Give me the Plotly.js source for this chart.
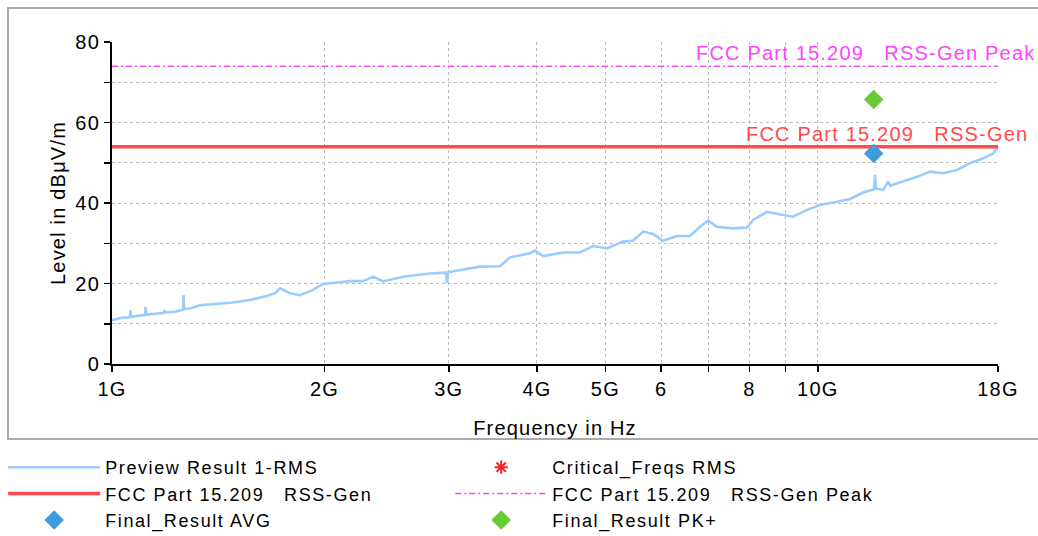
<!DOCTYPE html>
<html>
<head>
<meta charset="utf-8">
<script src="https://cdn.plot.ly/plotly-3.0.1.min.js"></script>
<style>
  html, body { margin: 0; padding: 0; background: #ffffff; }
  #chart { width: 1038px; height: 536px; }
  svg text { letter-spacing: 1.2px; }
  svg text.legendtext { letter-spacing: 1.6px; }
</style>
</head>
<body>
<div id="chart"></div>
<script>
// Preview Result 1-RMS (frequency in GHz, level in dBuV/m)
const previewFreqGHz = [
  1.000, 1.033, 1.060, 1.062, 1.064, 1.096, 1.114, 1.116, 1.118, 1.151,
  1.185, 1.187, 1.189, 1.228, 1.261, 1.263, 1.265, 1.290, 1.332, 1.399,
  1.483, 1.569, 1.658, 1.702, 1.730, 1.787, 1.846, 1.927, 1.991, 2.070,
  2.174, 2.268, 2.343, 2.421, 2.585, 2.822, 2.973, 2.983, 2.992, 3.144,
  3.322, 3.545, 3.664, 3.910, 3.975, 4.080, 4.355, 4.604, 4.803, 5.027,
  5.297, 5.473, 5.655, 5.842, 6.035, 6.317, 6.591, 6.810, 6.990, 7.199,
  7.584, 7.938, 8.095, 8.472, 8.926, 9.223, 9.654, 10.07, 10.65, 11.11,
  11.59, 12.01, 12.05, 12.09, 12.37, 12.58, 12.66, 13.21, 13.82, 14.42,
  15.05, 15.75, 16.43, 17.15, 17.71, 18.00
];
const previewLevel = [
  10.9, 11.5, 11.6, 13.4, 11.7, 12.0, 12.2, 14.2, 12.3, 12.5,
  12.7, 13.4, 12.8, 13.0, 13.5, 17.1, 13.7, 13.8, 14.6, 14.9,
  15.3, 15.9, 16.9, 17.6, 18.8, 17.6, 17.1, 18.4, 19.9, 20.2,
  20.6, 20.6, 21.7, 20.5, 21.7, 22.5, 22.7, 20.1, 22.8, 23.5,
  24.2, 24.3, 26.5, 27.5, 28.2, 26.8, 27.7, 27.7, 29.3, 28.7,
  30.4, 30.6, 32.9, 32.3, 30.6, 31.8, 31.8, 34.1, 35.6, 34.1,
  33.7, 33.9, 35.8, 37.8, 37.0, 36.6, 38.3, 39.5, 40.3, 41.0,
  42.6, 43.4, 47.0, 43.6, 43.2, 45.3, 44.3, 45.3, 46.5, 47.8,
  47.4, 48.2, 49.9, 51.1, 52.3, 53.8
];

// Limit lines
const limitFreqGHz = [1, 18];
const limitAvgLevel = [54, 54];
const limitPeakLevel = [74, 74];

// Final results
const finalFreqGHz = [12.0];
const finalAvgLevel = [52.3];
const finalPkLevel = [65.7];

// Critical frequencies (none found; legend entry only)
const criticalFreqGHz = [null];
const criticalLevel = [null];

// Axis ticks
const xTickGHz = [1, 2, 3, 4, 5, 6, 7, 8, 9, 10, 18];
const xTickText = ['1G', '2G', '3G', '4G', '5G', '6', '', '8', '', '10G', '18G'];
const yTickVals = [0, 10, 20, 30, 40, 50, 60, 70, 80];
const yTickText = ['0', '', '20', '', '40', '', '60', '', '80'];

const toHz = a => a.map(v => (v == null ? null : v * 1e9));
const sp = '\u00a0\u00a0\u00a0';
const FONT = '"Liberation Sans", Arial, sans-serif';
const FS = 20;

const traces = [
  { x: toHz(previewFreqGHz), y: previewLevel, type: 'scatter', mode: 'lines',
    name: 'Preview Result 1-RMS', line: { color: '#99CCFF', width: 2.6 } },
  { x: toHz(criticalFreqGHz), y: criticalLevel, type: 'scatter', mode: 'markers',
    name: 'Critical_Freqs RMS',
    marker: { symbol: 'asterisk-open', size: 11, color: '#FF2222', line: { color: '#FF2222', width: 2 } } },
  { x: toHz(limitFreqGHz), y: limitAvgLevel, type: 'scatter', mode: 'lines',
    name: 'FCC Part 15.209' + sp + 'RSS-Gen', line: { color: '#FF4B4B', width: 3.5 } },
  { x: toHz(limitFreqGHz), y: limitPeakLevel, type: 'scatter', mode: 'lines',
    name: 'FCC Part 15.209' + sp + 'RSS-Gen Peak',
    line: { color: '#FF44FF', width: 1.5, dash: '6px,3px,2px,3px' } },
  { x: toHz(finalFreqGHz), y: finalAvgLevel, type: 'scatter', mode: 'markers',
    name: 'Final_Result AVG', marker: { symbol: 'diamond', size: 15, color: '#3F9BE0' } },
  { x: toHz(finalFreqGHz), y: finalPkLevel, type: 'scatter', mode: 'markers',
    name: 'Final_Result PK+', marker: { symbol: 'diamond', size: 15, color: '#66CC33' } }
];

const xRange = [Math.log10(1e9), Math.log10(18e9)];
const yRange = [0, 80];

const layout = {
  width: 1038, height: 536,
  margin: { l: 112, r: 40, t: 42, b: 172, autoexpand: false },
  paper_bgcolor: '#ffffff', plot_bgcolor: '#ffffff',
  font: { family: FONT, size: FS, color: '#000000' },
  showlegend: true,
  xaxis: {
    type: 'log', range: xRange,
    tickvals: toHz(xTickGHz), ticktext: xTickText,
    showline: true, linecolor: '#000000', linewidth: 2,
    ticks: 'outside', ticklen: 6, tickwidth: 1.5, tickcolor: '#000000',
    showgrid: true, gridcolor: '#BBBBBB', gridwidth: 1, griddash: 'dot',
    zeroline: false, tickfont: { size: FS },
    title: { text: 'Frequency in Hz', font: { size: FS }, standoff: 22 }
  },
  yaxis: {
    range: yRange, tickvals: yTickVals, ticktext: yTickText,
    showline: true, linecolor: '#000000', linewidth: 2,
    ticks: 'outside', ticklen: 6, tickwidth: 1.5, tickcolor: '#000000',
    showgrid: true, gridcolor: '#BBBBBB', gridwidth: 1, griddash: 'dot',
    zeroline: false, tickfont: { size: FS },
    title: { text: 'Level in dBμV/m', font: { size: FS }, standoff: 4 }
  },
  xaxis2: {
    type: 'log', range: xRange, overlaying: 'x', anchor: 'y2',
    tickvals: toHz(xTickGHz), showticklabels: false,
    ticks: 'inside', ticklen: 6, tickwidth: 1.5, tickcolor: '#000000',
    showgrid: false, showline: false, zeroline: false
  },
  yaxis2: {
    range: yRange, overlaying: 'y', anchor: 'x2',
    tickvals: yTickVals, showticklabels: false,
    ticks: 'inside', ticklen: 6, tickwidth: 1.5, tickcolor: '#000000',
    showgrid: false, showline: false, zeroline: false
  },
  legend: {
    orientation: 'h', x: -0.1228, xanchor: 'left', y: -0.264, yanchor: 'top',
    entrywidth: 340, entrywidthmode: 'pixels', itemwidth: 92,
    itemsizing: 'trace', traceorder: 'normal',
    font: { family: FONT, size: 18, color: '#000000' },
    bgcolor: 'rgba(0,0,0,0)'
  },
  annotations: [
    { xref: 'paper', x: 1.044, xanchor: 'right', yref: 'y', y: 74, yanchor: 'bottom',
      text: 'FCC Part 15.209' + sp + 'RSS-Gen Peak', showarrow: false,
      font: { family: FONT, size: FS, color: '#FF44FF' } },
    { xref: 'paper', x: 1.036, xanchor: 'right', yref: 'y', y: 54, yanchor: 'bottom',
      text: 'FCC Part 15.209' + sp + 'RSS-Gen', showarrow: false,
      font: { family: FONT, size: FS, color: '#FF4B4B' } }
  ],
  shapes: [
    { type: 'rect', xref: 'paper', yref: 'paper', layer: 'below',
      x0: -0.1174, x1: 1.06, y0: -0.2329, y1: 1.1056,
      line: { color: '#AAAAAA', width: 2 }, fillcolor: 'rgba(0,0,0,0)' }
  ]
};

Plotly.newPlot('chart', traces, layout, { displayModeBar: false, staticPlot: true });
</script>
</body>
</html>
